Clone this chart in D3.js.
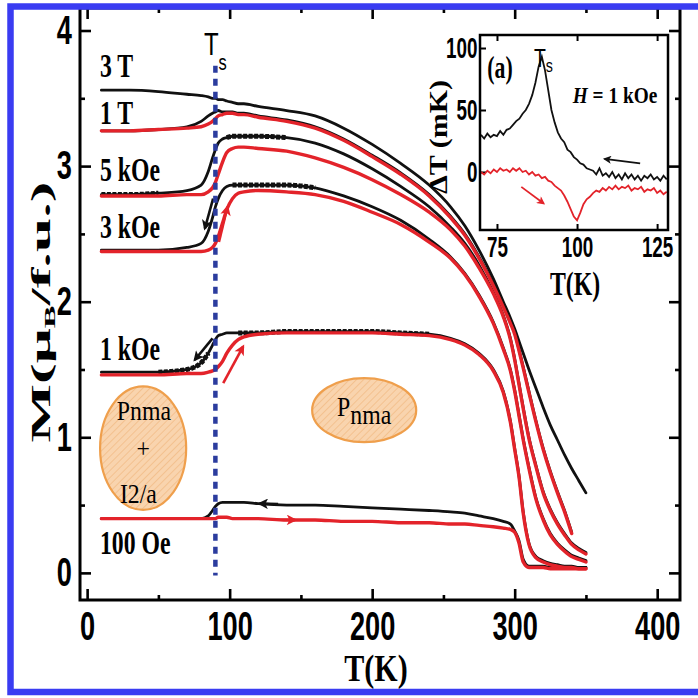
<!DOCTYPE html>
<html>
<head>
<meta charset="utf-8">
<script src="https://cdn.jsdelivr.net/npm/d3@7"></script>
<style>
  html, body { margin: 0; padding: 0; background: #fff; }
  svg { display: block; }
</style>
</head>
<body>
<svg id="chart" width="698" height="698"></svg>
<script>
// ---------- data ----------
// Temperature grid (K) for the M(T) curves
const temps = [10,30,50,70,80,85,88,90,92,95,98,102,106,110,120,140,160,180,200,220,240,255,265,275,285,292,297,300,303,306,310,315,320,325,330,335,340,345,350];

// Magnetization (μB/f.u.), cooling runs (black) and warming runs (red)
const m3T_cool  = [3.56,3.56,3.55,3.53,3.52,3.51,3.50,3.50,3.49,3.49,3.48,3.47,3.46,3.46,3.44,3.41,3.37,3.28,3.16,3.02,2.86,2.70,2.56,2.38,2.17,2.00,1.88,1.80,1.71,1.62,1.50,1.36,1.22,1.09,0.98,0.87,0.77,0.68,0.59];
const m1T_cool  = [3.26,3.26,3.27,3.29,3.33,3.37,3.39,3.40,3.41,3.40,3.40,3.40,3.39,3.39,3.37,3.34,3.29,3.20,3.08,2.95,2.79,2.63,2.50,2.33,2.13,1.97,1.85,1.77,1.65,1.52,1.34,1.12,0.92,0.75,0.60,0.46,0.30,null,null];
const m1T_warm  = [3.26,3.26,3.27,3.28,3.29,3.31,3.33,3.35,3.37,3.38,3.39,3.39,3.38,3.38,3.36,3.33,3.28,3.19,3.07,2.94,2.78,2.62,2.49,2.32,2.12,1.96,1.84,1.76,1.64,1.51,1.33,1.11,0.91,0.74,0.59,0.45,0.29,null,null];
const m5k_cool  = [2.79,2.79,2.80,2.82,2.86,2.96,3.06,3.12,3.17,3.20,3.21,3.22,3.22,3.22,3.22,3.21,3.17,3.09,2.98,2.85,2.70,2.55,2.43,2.27,2.07,1.90,1.73,1.58,1.40,1.22,1.00,0.79,0.60,0.47,0.37,0.29,0.22,0.18,0.15];
const m5k_warm  = [2.78,2.78,2.78,2.79,2.79,2.81,2.84,2.88,2.94,3.03,3.10,3.13,3.14,3.14,3.13,3.11,3.06,2.99,2.90,2.79,2.66,2.53,2.41,2.25,2.06,1.89,1.72,1.57,1.39,1.21,0.99,0.78,0.59,0.46,0.36,0.28,0.21,0.17,0.14];
const m3k_cool  = [2.38,2.38,2.38,2.40,2.43,2.52,2.62,2.70,2.76,2.82,2.85,2.86,2.86,2.86,2.86,2.86,2.84,2.78,2.70,2.60,2.46,2.33,2.21,2.05,1.85,1.66,1.50,1.35,1.17,0.99,0.78,0.55,0.40,0.29,0.22,0.17,0.13,0.11,0.09];
const m3k_warm  = [2.37,2.37,2.37,2.37,2.37,2.38,2.40,2.43,2.48,2.58,2.68,2.76,2.80,2.81,2.82,2.81,2.79,2.74,2.66,2.57,2.44,2.32,2.20,2.04,1.84,1.65,1.49,1.34,1.16,0.98,0.77,0.54,0.39,0.28,0.21,0.16,0.12,0.10,0.08];
const m1k_cool  = [1.48,1.48,1.48,1.50,1.55,1.62,1.68,1.72,1.75,1.76,1.77,1.77,1.77,1.77,1.77,1.78,1.78,1.78,1.78,1.77,1.76,1.73,1.69,1.62,1.50,1.34,1.12,0.92,0.72,0.45,0.22,0.12,0.09,0.07,0.06,0.05,0.05,0.04,0.04];
const m1k_warm  = [1.46,1.46,1.46,1.47,1.47,1.48,1.49,1.50,1.52,1.56,1.62,1.68,1.72,1.74,1.76,1.77,1.77,1.77,1.77,1.76,1.75,1.72,1.68,1.61,1.49,1.33,1.11,0.91,0.71,0.44,0.21,0.11,0.08,0.06,0.05,0.04,0.04,0.03,0.03];
const m100_cool = [0.40,0.40,0.40,0.40,0.40,0.42,0.46,0.49,0.51,0.52,0.52,0.52,0.52,0.52,0.51,0.50,0.50,0.49,0.48,0.47,0.46,0.45,0.44,0.42,0.40,0.38,0.36,0.31,0.24,0.10,0.05,0.05,0.05,0.04,0.04,0.04,0.04,0.04,0.04];
const m100_warm = [0.40,0.40,0.40,0.40,0.40,0.40,0.40,0.40,0.41,0.41,0.41,0.40,0.40,0.40,0.40,0.39,0.39,0.38,0.38,0.37,0.37,0.36,0.36,0.35,0.34,0.33,0.32,0.30,0.22,0.08,0.04,0.04,0.04,0.03,0.03,0.03,0.03,0.03,0.03];

// Field labels and where they sit (M)
const fieldNames = ["3 T", "1 T", "5 kOe", "3 kOe", "1 kOe", "100 Oe"];
const fieldLabelM = [3.74, 3.39, 2.97, 2.55, 1.65, 0.22];

// Stretches of the cooling runs recorded with dense points [name, Tfrom, Tto]
const denseSpans = [["5 kOe", 10, 55], ["5 kOe", 98, 140], ["3 kOe", 102, 170], ["1 kOe", 50, 85], ["1 kOe", 106, 245]];

// Structural transition temperature (K)
const Ts = 90;

// Axis ticks
const xMajor = [0, 100, 200, 300, 400];
const xMinor = [50, 150, 250, 350];
const yMajor = [0, 1, 2, 3, 4];
const yMinor = [0.5, 1.5, 2.5, 3.5];

// Inset (a): ΔT (mK) vs T (K) at H = 1 kOe
const insetT = [70,71,72,73,74,75,76,77,78,79,80,81,82,83,84,85,86,87,88,89,90,91,92,93,94,95,96,97,98,99,100,101,102,103,104,105,106,107,108,109,110,111,112,113,114,115,116,117,118,119,120,121,122,123,124,125,126,127,128];
const insetCool = [30,27,31,28,30,29,33,30,34,35,38,41,43,47,50,55,62,72,85,93,82,66,50,40,32,27,24,18,16,12,10,7,6,3,2,1,-2,3,-3,-1,-4,0,-5,-2,-6,-1,-5,-2,-6,-3,-7,-3,-5,-2,-6,-4,-7,-3,-6];
const insetWarm = [0,-2,1,-1,2,0,3,1,2,0,3,1,3,0,1,-2,0,-3,-2,-5,-4,-7,-8,-11,-13,-15,-19,-24,-30,-36,-39,-33,-26,-22,-20,-17,-15,-16,-13,-15,-12,-14,-11,-14,-12,-13,-11,-15,-13,-14,-12,-16,-14,-15,-13,-17,-15,-18,-16];
const insetXTicks = [75, 100, 125];
const insetYTicks = [0, 50, 100];

// ---------- drawing ----------
const svg = d3.select("#chart");
const SANS = "'Liberation Sans', Arial, sans-serif";
const SERIF = "'Liberation Serif', 'Times New Roman', serif";
const RED = "#e3232a", BLACK = "#111";

svg.append("rect").attr("width", 698).attr("height", 698).attr("fill", "#fff");
const defs = svg.append("defs");

// hatch used inside the phase bubbles
const pat = defs.append("pattern").attr("id", "hatch").attr("patternUnits", "userSpaceOnUse")
  .attr("width", 5).attr("height", 5).attr("patternTransform", "rotate(45)");
pat.append("rect").attr("width", 5).attr("height", 5).attr("fill", "#f9d4ae");
pat.append("line").attr("x1", 0).attr("y1", 0).attr("x2", 0).attr("y2", 5)
  .attr("stroke", "#f1b982").attr("stroke-width", 1.4);

function arrowMarker(id, color, size) {
  defs.append("marker").attr("id", id).attr("viewBox", "0 0 10 10")
    .attr("refX", 8).attr("refY", 5).attr("markerWidth", size).attr("markerHeight", size * 0.75)
    .attr("markerUnits", "userSpaceOnUse").attr("orient", "auto")
    .append("path").attr("d", "M0,0 L10,5 L0,10 L2.5,5 z").attr("fill", color);
}
arrowMarker("arrK", BLACK, 14);
arrowMarker("arrR", RED, 14);
arrowMarker("arrKs", BLACK, 11);
arrowMarker("arrRs", RED, 11);

// text helper: horizontally (or, when rotated, vertically) condensed text
function addText(parent, px, py, o, segs) {
  const g = parent.append("g").attr("transform", `translate(${px},${py})` + (o.rotate ? ` rotate(${o.rotate})` : ""));
  const t = g.append("text")
    .attr("transform", o.rotate ? `scale(1,${o.sx || 1})` : `scale(${o.sx || 1},1)`)
    .attr("text-anchor", o.anchor || "start")
    .attr("font-family", o.family || SERIF)
    .attr("font-weight", o.weight || "bold")
    .attr("font-size", o.size)
    .attr("fill", o.fill || "#000");
  segs.forEach(s => {
    const ts = t.append("tspan").text(s.text);
    if (s.size) ts.attr("font-size", s.size);
    if (s.dy) ts.attr("dy", s.dy);
    if (s.dx) ts.attr("dx", s.dx);
    if (s.style) ts.attr("font-style", s.style);
  });
  return t;
}

// ----- main panel -----
const x = d3.scaleLinear().domain([-5, 416]).range([80, 680]);
const y = d3.scaleLinear().domain([-0.2, 4.166]).range([600, 8]);

function styleTicks(g, sx, size) {
  g.select(".domain").remove();
  g.selectAll(".tick line").attr("stroke", "#000").attr("stroke-width", 2.6);
  g.selectAll(".tick text").attr("font-family", SANS).attr("font-weight", "bold")
    .attr("font-size", size || 40).attr("fill", "#000").attr("transform", `scale(${sx},1)`);
}

svg.append("g").attr("transform", "translate(0,600)")
  .call(d3.axisBottom(x).tickValues(xMajor).tickSizeInner(-11).tickSizeOuter(0).tickPadding(12).tickFormat(d3.format("d")))
  .call(g => styleTicks(g, 0.68));
svg.append("g").attr("transform", "translate(0,600)")
  .call(d3.axisBottom(x).tickValues(xMinor).tickSize(-5).tickFormat(""))
  .call(g => styleTicks(g, 1));
svg.append("g").attr("transform", "translate(0,8)")
  .call(d3.axisTop(x).tickValues(xMajor).tickSize(-11).tickFormat(""))
  .call(g => styleTicks(g, 1));
svg.append("g").attr("transform", "translate(0,8)")
  .call(d3.axisTop(x).tickValues(xMinor).tickSize(-5).tickFormat(""))
  .call(g => styleTicks(g, 1));
svg.append("g").attr("transform", "translate(80,0)")
  .call(d3.axisLeft(y).tickValues(yMajor).tickSizeInner(-11).tickSizeOuter(0).tickPadding(12).tickFormat(d3.format("d")))
  .call(g => styleTicks(g, 0.68));
svg.append("g").attr("transform", "translate(80,0)")
  .call(d3.axisLeft(y).tickValues(yMinor).tickSize(-5).tickFormat(""))
  .call(g => styleTicks(g, 1));
svg.append("g").attr("transform", "translate(680,0)")
  .call(d3.axisRight(y).tickValues(yMajor).tickSize(-11).tickFormat(""))
  .call(g => styleTicks(g, 1));
svg.append("g").attr("transform", "translate(680,0)")
  .call(d3.axisRight(y).tickValues(yMinor).tickSize(-5).tickFormat(""))
  .call(g => styleTicks(g, 1));

svg.append("rect").attr("x", x(-5)).attr("y", y(4.166)).attr("width", x(416) - x(-5)).attr("height", y(-0.2) - y(4.166))
  .attr("fill", "none").attr("stroke", "#000").attr("stroke-width", 3);

// curves
const line = d3.line().defined(d => d[1] != null).x(d => x(d[0])).y(d => y(d[1])).curve(d3.curveMonotoneX);
const pairs = arr => temps.map((t, i) => [t, arr[i]]);

const coolRuns = [m3T_cool, m1T_cool, m5k_cool, m3k_cool, m1k_cool, m100_cool];
const warmRuns = [null, m1T_warm, m5k_warm, m3k_warm, m1k_warm, m100_warm];
const curves = svg.append("g").attr("fill", "none").attr("stroke-linejoin", "round").attr("stroke-linecap", "round");

coolRuns.forEach(run => {
  curves.append("path").attr("d", line(pairs(run))).attr("stroke", BLACK).attr("stroke-width", 2.8);
});
// densely sampled stretches of the cooling runs
denseSpans.forEach(([name, a, b]) => {
  const run = coolRuns[fieldNames.indexOf(name)];
  const pts = pairs(run).filter(d => d[0] >= a && d[0] <= b);
  curves.append("path").attr("d", line(pts)).attr("stroke", BLACK).attr("stroke-width", 5)
    .attr("stroke-dasharray", "4,1.5").attr("stroke-linecap", "butt");
});
warmRuns.forEach(run => {
  if (!run) return;
  curves.append("path").attr("d", line(pairs(run))).attr("stroke", RED).attr("stroke-width", 3.4);
});

// direction arrows (T, M)
const mainArrows = [
  { from: [88.4, 2.76], to: [82.6, 2.54], color: "K" },
  { from: [92.5, 2.44], to: [98.5, 2.70], color: "R" },
  { from: [88.0, 1.73], to: [75.5, 1.57], color: "K" },
  { from: [95.5, 1.40], to: [109.5, 1.67], color: "R" },
  { from: [134, 0.507], to: [121, 0.511], color: "K" },
  { from: [132, 0.392], to: [146, 0.390], color: "R" }
];
mainArrows.forEach(a => {
  svg.append("line").attr("x1", x(a.from[0])).attr("y1", y(a.from[1])).attr("x2", x(a.to[0])).attr("y2", y(a.to[1]))
    .attr("stroke", a.color === "K" ? BLACK : RED).attr("stroke-width", 2.6)
    .attr("marker-end", `url(#arr${a.color})`);
});

// field labels
fieldNames.forEach((n, i) => {
  addText(svg, x(9), y(fieldLabelM[i]) + 11, { size: 33, sx: 0.72 }, [{ text: n }]);
});

// phase bubbles (centre T, centre M, half-width K, half-height M)
const bubbles = [
  { T: 39.3, M: 0.92, dT: 30.2, dM: 0.455 },
  { T: 194.4, M: 1.20, dT: 36.5, dM: 0.236 }
];
bubbles.forEach(b => {
  svg.append("ellipse").attr("cx", x(b.T)).attr("cy", y(b.M))
    .attr("rx", x(b.T + b.dT) - x(b.T)).attr("ry", y(b.M - b.dM) - y(b.M))
    .attr("fill", "url(#hatch)").attr("stroke", "#ef9f4c").attr("stroke-width", 2.2);
});
const bt = { size: 28, sx: 0.85, weight: "normal", anchor: "middle" };
addText(svg, x(39.8), y(0.92) - 28, bt, [{ text: "Pnma" }]);
addText(svg, x(39.3), y(0.92) + 10, bt, [{ text: "+" }]);
addText(svg, x(36), y(0.92) + 55, bt, [{ text: "I2/a" }]);
addText(svg, x(194.4), y(1.20) + 6, bt, [{ text: "P" }, { text: "nma", dy: 8 }]);

// Ts marker
svg.append("line").attr("x1", x(Ts)).attr("x2", x(Ts)).attr("y1", y(3.74)).attr("y2", y(-0.02))
  .attr("stroke", "#2b3c9e").attr("stroke-width", 4.5).attr("stroke-dasharray", "7,6");
addText(svg, x(Ts), 55, { size: 32, sx: 0.75, family: SANS, weight: "normal", anchor: "middle" },
  [{ text: "T" }, { text: "s", size: 22, dy: 15 }]);

// axis titles
addText(svg, 376, 681, { size: 39, sx: 0.77, anchor: "middle" }, [{ text: "T(K)" }]);
addText(svg, 50, 312, { size: 62, sx: 0.45, anchor: "middle", rotate: -90 },
  [{ text: "M(μ" }, { text: "B", size: 34, dy: 12 }, { text: "/f.u.)", dy: -12 }]);

// ----- inset (a) -----
const xi = d3.scaleLinear().domain([69.7, 128.4]).range([480, 668]);
const yi = d3.scaleLinear().domain([-46.8, 110.5]).range([230, 35]);
const inset = svg.append("g");
inset.append("rect").attr("x", 480).attr("y", 35).attr("width", 188).attr("height", 195).attr("fill", "#fff");

inset.append("g").attr("transform", "translate(0,230)")
  .call(d3.axisBottom(xi).tickValues(insetXTicks).tickSizeInner(-6).tickSizeOuter(0).tickPadding(6).tickFormat(d3.format("d")))
  .call(g => { styleTicks(g, 0.65, 29); g.selectAll(".tick line").attr("stroke-width", 2); });
inset.append("g").attr("transform", "translate(0,35)")
  .call(d3.axisTop(xi).tickValues(insetXTicks).tickSize(-6).tickFormat(""))
  .call(g => { styleTicks(g, 1); g.selectAll(".tick line").attr("stroke-width", 2); });
inset.append("g").attr("transform", "translate(480,0)")
  .call(d3.axisLeft(yi).tickValues(insetYTicks).tickSizeInner(-6).tickSizeOuter(0).tickPadding(4).tickFormat(d3.format("d")))
  .call(g => { styleTicks(g, 0.65, 29); g.selectAll(".tick line").attr("stroke-width", 2); });

const iline = d3.line().x(d => xi(d[0])).y(d => yi(d[1]));
inset.append("path").attr("d", iline(insetT.map((t, i) => [t, insetCool[i]])))
  .attr("fill", "none").attr("stroke", BLACK).attr("stroke-width", 1.8);
inset.append("path").attr("d", iline(insetT.map((t, i) => [t, insetWarm[i]])))
  .attr("fill", "none").attr("stroke", RED).attr("stroke-width", 1.8);

inset.append("rect").attr("x", 480).attr("y", 35).attr("width", 188).attr("height", 195)
  .attr("fill", "none").attr("stroke", "#000").attr("stroke-width", 2.5);

const insetArrows = [
  { from: [119.7, 7], to: [108.6, 10.5], color: "Ks", stroke: BLACK },
  { from: [82.6, -12], to: [89.6, -25.5], color: "Rs", stroke: RED }
];
insetArrows.forEach(a => {
  inset.append("line").attr("x1", xi(a.from[0])).attr("y1", yi(a.from[1])).attr("x2", xi(a.to[0])).attr("y2", yi(a.to[1]))
    .attr("stroke", a.stroke).attr("stroke-width", 1.8).attr("marker-end", `url(#arr${a.color})`);
});

addText(inset, 500, 78, { size: 32, sx: 0.68, anchor: "middle" }, [{ text: "(a)" }]);
addText(inset, xi(89.5), 67, { size: 26, sx: 0.75, family: SANS, weight: "normal", anchor: "middle" },
  [{ text: "T" }, { text: "s", size: 19, dy: 5 }]);
addText(inset, 615, 103, { size: 23, sx: 0.84, anchor: "middle" },
  [{ text: "H", style: "italic" }, { text: " = 1 kOe" }]);
addText(inset, 575, 295, { size: 34, sx: 0.7, anchor: "middle" }, [{ text: "T(K)" }]);
addText(inset, 447, 137, { size: 30, sx: 0.85, anchor: "middle", rotate: -90 }, [{ text: "ΔT (mK)" }]);

// ----- outer frame -----
svg.append("rect").attr("x", 10.5).attr("y", 6.5).attr("width", 700).attr("height", 685.5)
  .attr("fill", "none").attr("stroke", "#3a3cf2").attr("stroke-width", 6.5);
</script>
</body>
</html>
